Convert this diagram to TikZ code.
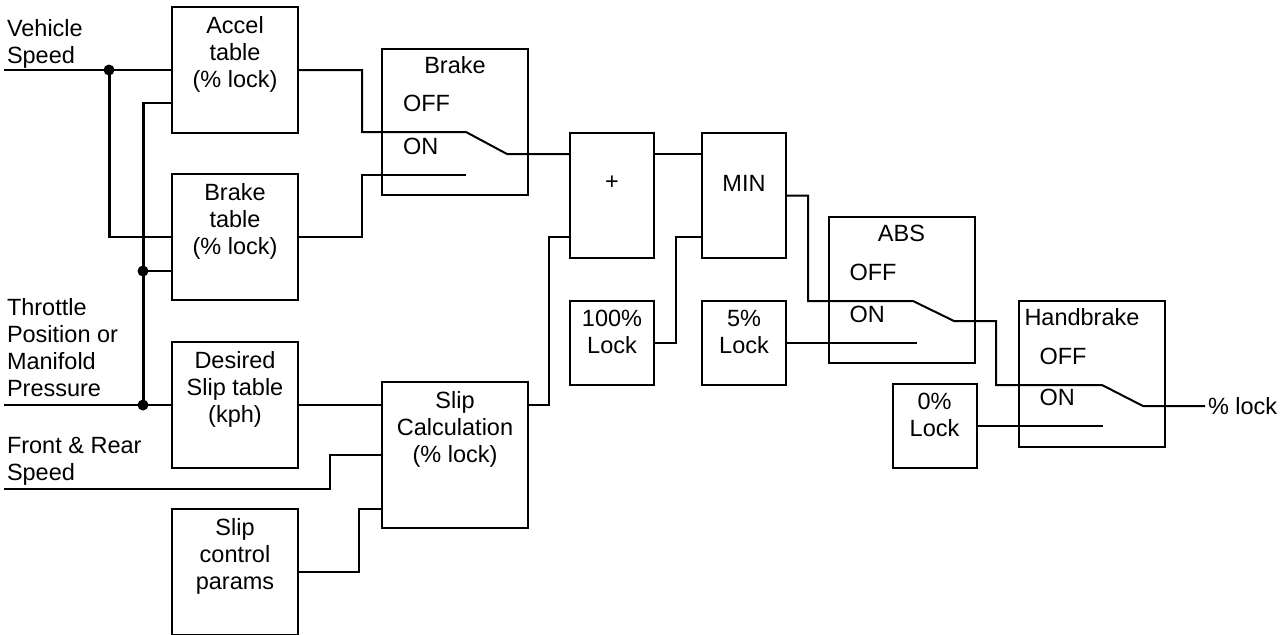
\documentclass[tikz,border=0pt]{standalone}
\usepackage{fontspec}
\setmainfont{Liberation Sans}
\usetikzlibrary{positioning, calc}

\begin{document}
\begin{tikzpicture}[x=0.5pt, y=-0.5pt, line width=1pt,
  font=\fontsize{11.75pt}{13.6pt}\selectfont,
  blk/.style={draw, rectangle, inner sep=0pt},
  tbl/.style={blk, minimum width=63pt, minimum height=63pt},
  swbox/.style={blk, minimum width=73pt, minimum height=73pt},
  sumbox/.style={blk, minimum width=42pt, minimum height=62.5pt},
  lockbox/.style={blk, minimum width=42pt, minimum height=42pt},
  txt/.style={anchor=north, inner sep=0pt, align=center, yshift=-4.5pt},
  sig/.style={anchor=north west, inner sep=0pt, align=left},
  lft/.style={anchor=west, inner sep=0pt},
  bus/.style={line width=1.5pt}]
  \useasboundingbox (0,0) rectangle (1286,634);

  \node[tbl] (accel) at (235,70) {};
  \node[txt] (accel-t) at (accel.north) {Accel\\table\\(\% lock)};
  \node[tbl] (braketbl) at (235,237) {};
  \node[txt] (braketbl-t) at (braketbl.north) {Brake\\table\\(\% lock)};
  \node[tbl] (desired) at (235,405) {};
  \node[txt] (desired-t) at (desired.north) {Desired\\Slip table\\(kph)};
  \node[tbl] (params) at (235,572) {};
  \node[txt] (params-t) at (params.north) {Slip\\control\\params};

  \node[swbox] (brakesw) at (455,122) {};
  \node (brakesw-t) at ([yshift=-8.5pt]brakesw.north) {Brake};
  \node[lft] (brakesw-off) at ([xshift=10.5pt, yshift=-27.5pt]brakesw.north west) {OFF};
  \node[lft] (brakesw-on) at ([xshift=10.5pt, yshift=-49pt]brakesw.north west) {ON};
  \node[swbox] (slipcalc) at (455,455) {};
  \node[txt] (slipcalc-t) at (slipcalc.north) {Slip\\Calculation\\(\% lock)};

  \node[sumbox] (plus) at (612,195.5) {};
  \node (plus-t) at (612,183) {+};
  \node[sumbox] (min) at (744,195.5) {};
  \node (min-t) at (744,183) {MIN};
  \node[lockbox] (lock100) at (612,343) {};
  \node[txt] (lock100-t) at (lock100.north) {100\%\\Lock};
  \node[lockbox] (lock5) at (744,343) {};
  \node[txt] (lock5-t) at (lock5.north) {5\%\\Lock};

  \node[swbox] (abs) at (901.5,290) {};
  \node (abs-t) at ([yshift=-8.5pt]abs.north) {ABS};
  \node[lft] (abs-off) at ([xshift=10.5pt, yshift=-28pt]abs.north west) {OFF};
  \node[lft] (abs-on) at ([xshift=10.5pt, yshift=-49pt]abs.north west) {ON};
  \node[lockbox] (lock0) at (934.5,426) {};
  \node[txt] (lock0-t) at (lock0.north) {0\%\\Lock};
  \node[swbox] (hand) at (1091.5,374) {};
  \node[lft] (hand-t) at ([xshift=3pt, yshift=-8.5pt]hand.north west) {Handbrake};
  \node[lft] (hand-off) at ([xshift=10.5pt, yshift=-28pt]hand.north west) {OFF};
  \node[lft] (hand-on) at ([xshift=10.5pt, yshift=-48.5pt]hand.north west) {ON};

  \node[sig] (vs-t) at (6,18) {Vehicle\\Speed};
  \node[sig] (tp-t) at (6,297) {Throttle\\Position or\\Manifold\\Pressure};
  \node[sig] (fr-t) at (6,436) {Front \& Rear\\Speed};
  \node[lft] (out-t) at (1207,406) {\% lock};

  \coordinate (vs) at (4,70);
  \coordinate (tp) at (4,405);
  \coordinate (fr) at (4,489);
  \coordinate (j1) at (109,70);
  \coordinate (j2) at (143,405);
  \coordinate (accel-in2) at ([yshift=-16.5pt]accel.west);
  \coordinate (braketbl-in2) at ([yshift=-17pt]braketbl.west);
  \coordinate (j3) at (j2 |- braketbl-in2);
  \coordinate (plus-in2) at ([yshift=-20.75pt]plus.west);
  \coordinate (brk-off) at (466,132);
  \coordinate (brk-on) at (466,175);
  \coordinate (brk-com) at (507,154);
  \coordinate (abs-c-off) at (913,301);
  \coordinate (abs-c-on) at (917,343);
  \coordinate (abs-com) at (954,321);
  \coordinate (hnd-off) at (1102,385);
  \coordinate (hnd-on) at (1103,426);
  \coordinate (hnd-com) at (1143,406);
  \coordinate (out) at (1205,406);

  \draw (vs) -- (accel.west);
  \draw (j1) |- (braketbl.west);
  \draw[bus] (j1) -- (j1 |- braketbl.west);
  \draw (tp) -- (desired.west);
  \draw (j2) |- (accel-in2);
  \draw[bus] (j2) -- (j2 |- accel-in2);
  \draw (j3) -- (braketbl-in2);
  \foreach \j in {j1,j2,j3} \fill (\j) circle (2.75pt);

  \draw (accel.east) -- ++(63,0) |- (brk-off) -- (brk-com) -- (plus.west |- brk-com);
  \draw (braketbl.east) -- ++(63,0) |- (brk-on);
  \draw (plus.east |- brk-com) -- (min.west |- brk-com);
  \draw (desired.east) -- (slipcalc.west |- desired.east);
  \draw (fr) -- ++(326,0) |- (slipcalc.west);
  \draw (params.east) -- ++(60,0) |- ([yshift=-27pt]slipcalc.west);
  \draw (slipcalc.east |- desired.east) -- ++(20,0) |- (plus-in2);
  \draw (lock100.east) -- ++(21,0) |- (min.west |- plus-in2);
  \draw (min.east) -- ++(21,0) |- (abs-c-off) -- (abs-com) -- ++(42,0) |- (hnd-off) -- (hnd-com) -- (out);
  \draw (lock5.east) -- (abs-c-on);
  \draw (lock0.east) -- (hnd-on);
\end{tikzpicture}
\end{document}
